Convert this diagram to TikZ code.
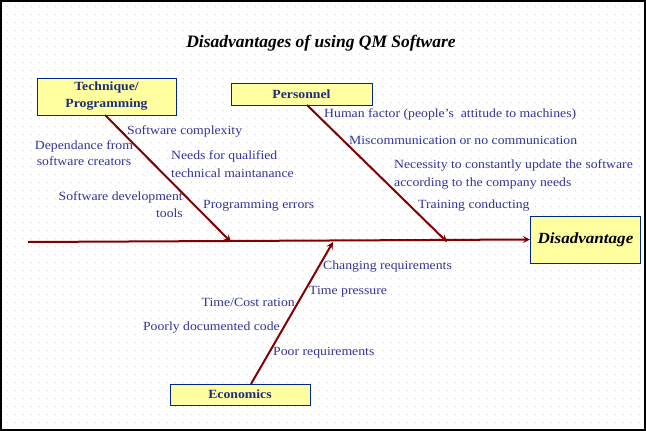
\documentclass[tikz,border=0pt]{standalone}
\usepackage{fontspec}
\setmainfont{Liberation Serif}
\newfontfamily\labfont[FakeStretch=1.1]{Liberation Serif}
\usetikzlibrary{arrows.meta,patterns}
\definecolor{bone}{RGB}{130,0,0}
\definecolor{labc}{RGB}{51,51,153}
\definecolor{boxc}{RGB}{31,45,120}
\definecolor{boxfill}{RGB}{255,255,160}
\definecolor{boxline}{RGB}{0,40,140}
\pgfdeclarepatternformonly{gdots}{\pgfpoint{0pt}{0pt}}{\pgfpoint{8pt}{8pt}}{\pgfpoint{8pt}{8pt}}{%
  \pgfpathrectangle{\pgfpoint{0pt}{0pt}}{\pgfpoint{1pt}{1pt}}%
  \pgfpathrectangle{\pgfpoint{4pt}{4pt}}{\pgfpoint{1pt}{1pt}}%
  \pgfusepath{fill}}
\tikzset{
  lab/.style={font=\labfont\fontsize{12.5}{16}\selectfont, text=labc, inner sep=0pt},
  catbox/.style={draw=boxline, line width=1pt, fill=boxfill, inner sep=0pt,
     font=\labfont\fontsize{12.5}{17}\selectfont\bfseries, text=boxc, align=center},
  bonel/.style={draw=bone, line width=2pt},
  tip/.style={-{Stealth[length=7pt,width=7pt,inset=2.5pt]}},
}
\begin{document}
\begin{tikzpicture}[x=1pt,y=-1pt]
\useasboundingbox (0,0) rectangle (646,431);
\fill[white] (0,0) rectangle (646,431);
\fill[pattern=gdots, pattern color=black!16] (0,0) rectangle (646,431);
\draw[black, line width=2pt] (0.5,0.5) rectangle (645,430);

\node[font=\fontsize{17.5}{20}\selectfont\bfseries\itshape] (title) at (321,43) {Disadvantages of using QM Software};

% boxes
\node[catbox, minimum width=139pt, minimum height=37pt] (tech) at (106.5,96.5) {Technique/\\Programming};
\node[catbox, minimum width=141pt, minimum height=22pt] (pers) at (301.5,94) {Personnel};
\node[catbox, minimum width=140pt, minimum height=21pt] (econ) at (240,394.5) {Economics};
\node[catbox, minimum width=110pt, minimum height=47pt, text=black,
      font=\labfont\fontsize{15.5}{18}\selectfont\bfseries\itshape] (dis) at (585.5,239.5) {Disadvantage};

% spine
\coordinate (tail) at (28,242);
\coordinate (jt) at (231,242);
\coordinate (je) at (333,242);
\coordinate (jp) at (447,242);
\coordinate (tb) at (105,115);
\coordinate (pb) at (307,105);
\coordinate (eb) at (251,384);
\draw[bonel, tip] (tail) -- (dis.west);
\draw[bonel, tip] (tb) -- (jt);
\draw[bonel, tip] (pb) -- (jp);
\draw[bonel, tip] (eb) -- (je);

% technique labels
\node[lab, anchor=west] (t1) at (127,131) {Software complexity};
\node[lab, align=center, font=\labfont\fontsize{12.5}{16}\selectfont] (t2) at (84,153) {Dependance from\\software creators};
\node[lab, align=left, anchor=west, font=\labfont\fontsize{12.5}{18}\selectfont] (t3) at (171,164) {Needs for qualified\\technical maintanance};
\node[lab, align=right, anchor=east, font=\labfont\fontsize{12.5}{17}\selectfont] (t4) at (183,204.5) {Software development\\tools};
\node[lab, anchor=west] (t5) at (203,206) {Programming errors};

% personnel labels
\node[lab, anchor=west] (p1) at (324,114) {Human factor (people’s\ \ attitude to machines)};
\node[lab, anchor=west] (p2) at (349,140) {Miscommunication or no communication};
\node[lab, align=left, anchor=west, font=\labfont\fontsize{12.5}{18}\selectfont] (p3) at (394,174) {Necessity to constantly update the software\\according to the company needs};
\node[lab, anchor=west] (p4) at (418,206) {Training conducting};

% economics labels
\node[lab, anchor=west] (e1) at (323,267) {Changing requirements};
\node[lab, anchor=west] (e2) at (309,292) {Time pressure};
\node[lab, anchor=east] (e3) at (295,302) {Time/Cost ration};
\node[lab, anchor=east] (e4) at (280,328) {Poorly documented code};
\node[lab, anchor=west] (e5) at (273,353) {Poor requirements};
\end{tikzpicture}
\end{document}
